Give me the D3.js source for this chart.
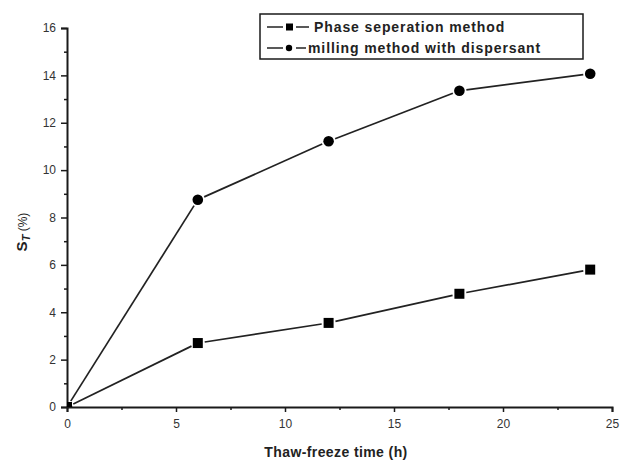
<!DOCTYPE html>
<html><head><meta charset="utf-8">
<script src="https://cdn.jsdelivr.net/npm/d3@7"></script>
<style>body{margin:0;background:#fff}svg{display:block}</style>
</head><body>
<svg id="c" width="620" height="461"></svg>
<script>
const times = [0, 6, 12, 18, 24];
const phaseSep = [0, 2.7, 3.55, 4.78, 5.8];
const milling = [0, 8.75, 11.22, 13.35, 14.07];
const seriesNames = ["Phase seperation method", "milling method with dispersant"];
const xTicks = [0, 5, 10, 15, 20, 25];
const yTicks = [0, 2, 4, 6, 8, 10, 12, 14, 16];

const svg = d3.select("#c");
const x = d3.scaleLinear().domain([0, 25]).range([67, 612]);
const y = d3.scaleLinear().domain([0, 16]).range([407, 28]);
const ink = "#1a1a1a";
const font = "Liberation Sans, Arial, sans-serif";

svg.append("defs").append("clipPath").attr("id","plot")
  .append("rect").attr("x",67).attr("y",20).attr("width",560).attr("height",387);

// axes
svg.append("g").attr("transform","translate(0,407)")
  .call(d3.axisBottom(x).tickValues(xTicks).tickSize(5).tickPadding(7).tickFormat(d3.format("d")));
svg.append("g").attr("transform","translate(0,407)")
  .call(d3.axisBottom(x).tickValues(d3.range(2.5,25,5)).tickSize(3).tickFormat(""))
  .select(".domain").remove();
svg.append("g").attr("transform","translate(67,0)")
  .call(d3.axisLeft(y).tickValues(yTicks).tickSize(6).tickPadding(5).tickFormat(d3.format("d")));
svg.append("g").attr("transform","translate(67,0)")
  .call(d3.axisLeft(y).tickValues(d3.range(1,16,2)).tickSize(3).tickFormat(""))
  .select(".domain").remove();
svg.selectAll(".domain").attr("stroke", ink).attr("stroke-width", 2);
svg.selectAll(".tick line").attr("stroke", ink).attr("stroke-width", 1.5);
svg.selectAll(".tick text").attr("fill","#333").style("font-family",font).style("font-size","12px");

// series
function drawSeries(vals, shape) {
  const pts = times.map((t,i)=>[x(t), y(vals[i])]);
  const gap = 7;
  const g = svg.append("g");
  for (let i=0;i<pts.length-1;i++){
    const [x1,y1]=pts[i],[x2,y2]=pts[i+1];
    const L=Math.hypot(x2-x1,y2-y1), ux=(x2-x1)/L, uy=(y2-y1)/L;
    g.append("line").attr("x1",x1+ux*gap).attr("y1",y1+uy*gap)
      .attr("x2",x2-ux*gap).attr("y2",y2-uy*gap)
      .attr("stroke","#222").attr("stroke-width",1.7);
  }
  const m = svg.append("g").attr("clip-path","url(#plot)");
  pts.forEach(([px,py])=>{
    if (shape==="square") m.append("rect").attr("x",px-5).attr("y",py-5).attr("width",10).attr("height",10).attr("fill","#000");
    else m.append("circle").attr("cx",px).attr("cy",py).attr("r",5.3).attr("fill","#000");
  });
}
drawSeries(phaseSep, "square");
drawSeries(milling, "circle");

// legend
const lg = svg.append("g");
lg.append("rect").attr("x",260).attr("y",14).attr("width",323).attr("height",45)
  .attr("fill","#fff").attr("stroke",ink).attr("stroke-width",1.5);
[["square",27],["circle",48]].forEach(([s,cy],i)=>{
  lg.append("line").attr("x1",267).attr("x2",i===0?309:306).attr("y1",cy).attr("y2",cy).attr("stroke","#222").attr("stroke-width",1.7);
  lg.append("rect").attr("x",283).attr("y",cy-4).attr("width",13).attr("height",8).attr("fill","#fff");
  if (s==="square") lg.append("rect").attr("x",286).attr("y",cy-3.5).attr("width",7).attr("height",7).attr("fill","#000");
  else lg.append("circle").attr("cx",289).attr("cy",cy).attr("r",3.2).attr("fill","#000");
  lg.append("text").attr("x", i===0?314:308).attr("y",cy+5).text(seriesNames[i])
    .attr("fill","#222").style("font-family",font).style("font-size","14px").style("font-weight","bold")
    .style("letter-spacing","0.9px");
});

// axis titles
svg.append("text").attr("x",336).attr("y",457).attr("text-anchor","middle").text("Thaw-freeze time (h)")
  .attr("fill","#222").style("font-family",font).style("font-size","14px").style("font-weight","bold").style("letter-spacing","0.4px");
const yl = svg.append("text").attr("transform","translate(27,232) rotate(-90)").attr("text-anchor","middle")
  .attr("fill","#222").style("font-family",font).style("font-size","15px");
yl.append("tspan").text("S").style("font-weight","bold");
yl.append("tspan").text("T").attr("dy",3).style("font-size","11px").style("font-weight","bold").style("font-style","italic");
yl.append("tspan").text(" (%)").attr("dy",-3).style("font-size","12px");
</script>
</body></html>
